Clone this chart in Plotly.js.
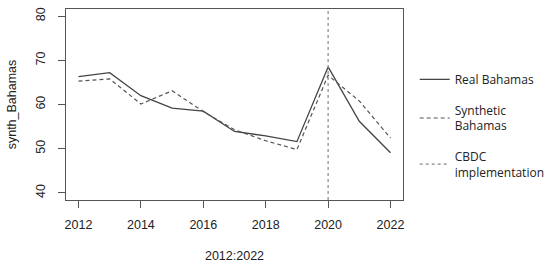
<!DOCTYPE html>
<html><head><meta charset="utf-8">
<script src="https://cdn.plot.ly/plotly-3.0.1.min.js"></script>
<style>html,body{margin:0;padding:0;background:#fff}#chart{width:550px;height:266px}</style>
</head><body><div id="chart"></div>
<script>
const years = [2012,2013,2014,2015,2016,2017,2018,2019,2020,2021,2022];
const realBahamas = [66.3,67.2,62.0,59.2,58.5,53.9,52.9,51.6,68.5,56.2,49.1];
const syntheticBahamas = [65.3,65.8,60.1,63.1,58.4,54.3,51.8,49.8,66.6,60.8,52.4];
const cbdcYear = [2020,2020];
const cbdcSpan = [38.4,81.6];
const xTicks = [2012,2014,2016,2018,2020,2022];
const yTicks = [40,50,60,70,80];

const traces = [
  {x: years, y: realBahamas, mode:'lines', name:'Real Bahamas', legendgroup:'a',
   line:{color:'#444', width:1.3}},
  {x: years, y: syntheticBahamas, mode:'lines', name:'Synthetic<br>Bahamas', legendgroup:'b',
   line:{color:'#555', width:1.2, dash:'4px,3px'}},
  {x: cbdcYear, y: cbdcSpan, mode:'lines', name:'CBDC<br>implementation', legendgroup:'c',
   line:{color:'#888', width:1.2, dash:'dot'}}
];
const axisFont = {family:'Liberation Sans, Arial, sans-serif', size:12.5, color:'#222'};
const layout = {
  width:550, height:266,
  margin:{l:66, r:147, t:9, b:66},
  paper_bgcolor:'#fff', plot_bgcolor:'#fff',
  showlegend:true,
  legend:{xref:'container', yref:'container', x:0.754, y:0.756, xanchor:'left', yanchor:'top',
    itemwidth:30, tracegroupgap:12,
    font:{family:'Open Sans, sans-serif', size:12, color:'#222'}, bgcolor:'rgba(0,0,0,0)'},
  xaxis:{range:[2011.6,2022.4], tickvals:xTicks, ticktext:xTicks.map(String), ticks:'outside', ticklen:7,
    ticklabelstandoff:6,
    tickcolor:'#555', showgrid:false, zeroline:false, showline:true, mirror:true, linecolor:'#555', linewidth:1.3,
    tickfont:axisFont, title:{text:'2012:2022', font:axisFont, standoff:20}},
  yaxis:{range:[38.4,81.6], tickvals:yTicks, ticktext:yTicks.map(String), ticks:'outside', ticklen:7, tickangle:-90,
    ticklabelstandoff:8,
    tickcolor:'#555', showgrid:false, zeroline:false, showline:true, mirror:true, linecolor:'#555', linewidth:1.3,
    tickfont:axisFont, title:{text:'synth_Bahamas', font:axisFont, standoff:14}}
};
Plotly.newPlot('chart', traces, layout, {displayModeBar:false, staticPlot:true});
</script></body></html>
